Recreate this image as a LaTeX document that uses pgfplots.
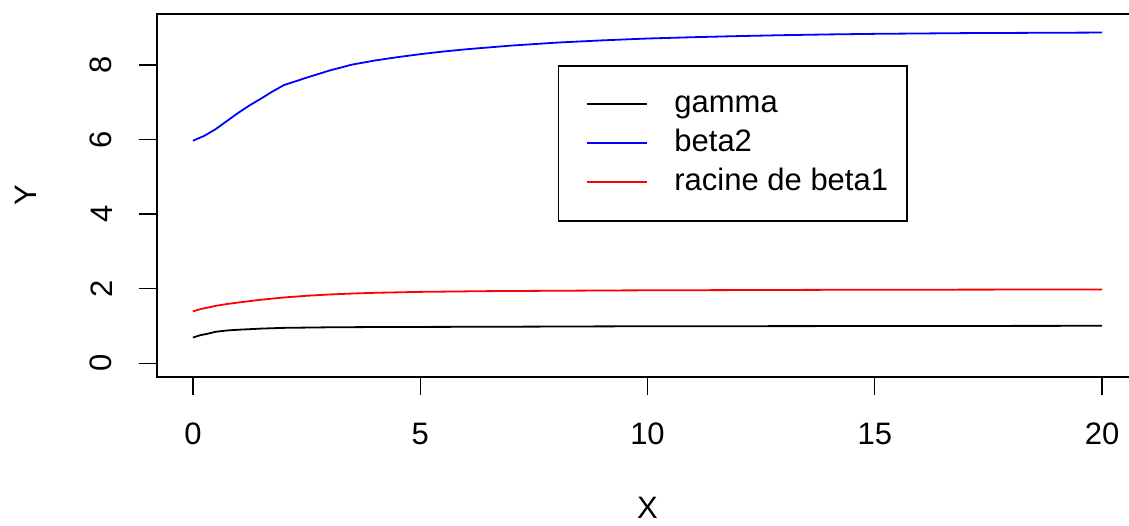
\documentclass[border=0pt]{standalone}
\usepackage{fontspec}
\setmainfont{Liberation Sans}
\usepackage{pgfplots}
\usepackage{pgfplotstable}
\pgfplotsset{compat=1.18}

% moments as functions of X
\pgfplotstableread{
x     g
0     0.69
0.15  0.75
0.35  0.80
0.5   0.845
0.75  0.88
1     0.90
1.5   0.93
2     0.95
3     0.965
4     0.972
6     0.978
8     0.985
9     0.99
12    0.995
16    1.0
20    1.005
}\gammatab

\pgfplotstableread{
x     b
0     5.97
0.25  6.10
0.5   6.28
0.75  6.50
1     6.72
1.25  6.92
1.5   7.10
1.75  7.29
2     7.46
2.5   7.66
3     7.85
3.5   8.01
4     8.12
4.5   8.21
5     8.29
5.5   8.36
6     8.42
6.5   8.47
7     8.52
7.5   8.56
8     8.60
9     8.66
10    8.71
11    8.745
12    8.775
13    8.80
14    8.82
15    8.835
16    8.845
17    8.855
18    8.86
19    8.865
20    8.87
}\betatwotab

\pgfplotstableread{
x     r
0     1.39
0.15  1.45
0.35  1.50
0.5   1.54
0.75  1.59
1     1.63
1.5   1.705
2     1.765
2.5   1.81
3     1.845
3.5   1.87
4     1.89
5     1.915
6.5   1.935
8     1.945
9.5   1.955
11    1.96
14    1.97
17    1.975
20    1.98
}\racinetab

\begin{document}
\begin{tikzpicture}[font=\fontsize{15.5pt}{18pt}\selectfont]
\begin{axis}[
  scale only axis,
  width=490.9pt, height=181.2pt,
  xmin=-0.8, xmax=20.8,
  ymin=-0.36, ymax=9.36,
  xtick={0,5,10,15,20},
  ytick={0,2,4,6,8},
  xtick pos=bottom, ytick pos=left,
  tick align=outside,
  major tick length=9pt,
  axis line style={line width=1pt},
  every tick/.style={black, line width=0.7pt},
  /pgf/number format/assume math mode=true,
  xticklabel style={anchor=north, inner sep=0pt, yshift=-14pt},
  yticklabel style={rotate=90, anchor=south, inner sep=0pt, yshift=13pt},
  legend cell align=left,
  legend style={
    at={(0.4088,0.860)}, anchor=north west,
    draw=black, line width=0.75pt,
    inner xsep=9.5pt, inner ysep=11.75pt,
    row sep=4.5pt, column sep=13.5pt,
    nodes={inner sep=0pt, text height=11.5pt, text depth=3.5pt},
  },
  legend image code/.code={
    \path (0pt,0pt);
    \draw[#1, line width=0.8pt] (4pt,0pt) -- (34pt,0pt);
  },
]
\addplot[black, line width=0.9pt] table[x=x, y=g] {\gammatab};
\addlegendentry{gamma}
\addplot[blue, line width=0.9pt] table[x=x, y=b] {\betatwotab};
\addlegendentry{beta2}
\addplot[red, line width=0.9pt] table[x=x, y=r] {\racinetab};
\addlegendentry{racine de beta1}
\end{axis}
% axis titles
\node[anchor=north, inner sep=0pt] at ([yshift=-60pt]current axis.south) {X};
\node[rotate=90, anchor=south, inner sep=0pt] at ([xshift=-60pt]current axis.west) {Y};
\pgfresetboundingbox
\path[use as bounding box] ([shift={(-78.3pt,-74.15pt)}]current axis.south west) rectangle ++(564.5pt,262.5pt);
\end{tikzpicture}
\end{document}
